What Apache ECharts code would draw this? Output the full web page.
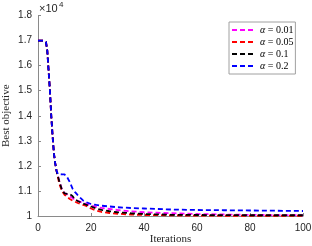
<!DOCTYPE html>
<html>
<head>
<meta charset="utf-8">
<script src="https://cdn.jsdelivr.net/npm/echarts@6/dist/echarts.min.js"></script>
<style>html,body{margin:0;padding:0;background:#fff;}#c{width:312px;height:246px;}</style>
</head>
<body>
<div id="c"></div>
<script>
const iterations = [0,1,2,3,3.5,4,4.5,5,5.5,6,6.5,7,7.5,8,9,10,10.5,11,12,13,14,15,16,17,18,20,22,24,27,30,35,40,45,50,60,70,80,90,100];
const alpha001 = [17000,17000,17000,16950,16600,15800,15000,14000,13200,12500,12100,11800,11600,11420,11080,10920,10880,10860,10780,10720,10650,10600,10560,10520,10490,10420,10360,10320,10280,10240,10190,10150,10130,10110,10080,10060,10045,10035,10030];
const alpha005 = [17000,17000,17000,16950,16600,15800,15000,14000,13200,12500,12100,11800,11550,11300,11000,10850,10800,10760,10680,10620,10570,10520,10480,10440,10410,10300,10220,10160,10120,10090,10060,10040,10035,10025,10015,10010,10010,10010,10010];
const alpha01 = [17000,17000,17000,16950,16600,15800,15000,14000,13200,12500,12100,11800,11600,11400,11050,10900,10880,10880,10870,10800,10660,10600,10550,10500,10460,10380,10300,10240,10190,10150,10110,10080,10065,10050,10040,10035,10030,10030,10030];
const alpha02 = [17000,17000,17000,16950,16600,15800,15000,14000,13200,12500,12100,11800,11680,11670,11660,11660,11650,11550,11350,11100,10950,10830,10720,10620,10560,10480,10440,10410,10380,10350,10320,10300,10280,10260,10240,10230,10220,10210,10200];
const seriesNames = ['0.01','0.05','0.1','0.2'];
const seriesColors = ['#ff00ff','#ff0000','#000000','#0000ff'];
const seriesValues = [alpha001, alpha005, alpha01, alpha02];

const chart = echarts.init(document.getElementById('c'), null, {renderer:'canvas'});
const series = seriesValues.map((vals, i) => ({
  name: seriesNames[i],
  type: 'line',
  data: iterations.map((x, j) => [x, vals[j]]),
  showSymbol: false,
  symbol: 'none',
  lineStyle: {color: seriesColors[i], width: 1.8, type: [5,3]},
  itemStyle: {color: seriesColors[i]},
  z: 2 + i
}));
chart.setOption({
  animation: false,
  backgroundColor: '#ffffff',
  grid: {left: 38, right: 9, top: 15.5, bottom: 30, containLabel: false, outerBoundsMode: 'none'},
  xAxis: {
    type: 'value', min: 0, max: 100, interval: 20,
    name: 'Iterations', nameLocation: 'middle', nameGap: 18, nameMoveOverlap: false,
    nameTextStyle: {fontFamily: 'Liberation Serif', fontSize: 11, color: '#262626'},
    axisLine: {lineStyle: {color: '#8a8a8a', width: 1}},
    axisTick: {inside: true, length: 3, lineStyle: {color: '#8a8a8a'}},
    axisLabel: {fontFamily: 'Liberation Sans', fontSize: 10, color: '#262626', margin: 7},
    splitLine: {show: false}
  },
  yAxis: {
    type: 'value', min: 10000, max: 18000, interval: 1000,
    name: 'Best objective', nameLocation: 'middle', nameGap: 26, nameRotate: 90, nameMoveOverlap: false,
    nameTextStyle: {fontFamily: 'Liberation Serif', fontSize: 11, color: '#262626'},
    axisLine: {show: true, lineStyle: {color: '#8a8a8a', width: 1}},
    axisTick: {show: true, inside: true, length: 3, lineStyle: {color: '#8a8a8a'}},
    axisLabel: {fontFamily: 'Liberation Sans', fontSize: 10, color: '#262626', margin: 6,
      formatter: v => String(Math.round(v/100)/100)},
    splitLine: {show: false}
  },
  legend: {
    orient: 'vertical', left: 229, top: 22,
    padding: [3, 2, 3, 2], itemGap: 2, itemWidth: 23, itemHeight: 10,
    backgroundColor: '#ffffff', borderColor: '#a0a0a0', borderWidth: 1, borderRadius: 0,
    data: seriesNames,
    itemStyle: {opacity: 0},
    formatter: n => '{a|α} = ' + n,
    textStyle: {fontFamily: 'Liberation Serif', fontSize: 10, color: '#000', lineHeight: 10,
      rich: {a: {fontFamily: 'Liberation Serif', fontStyle: 'italic', fontSize: 10, lineHeight: 10}}}
  },
  graphic: [
    {type: 'text', left: 39, top: 3, style: {text: '×10', font: '11px "Liberation Sans"', fill: '#262626'}},
    {type: 'text', left: 59, top: 1, style: {text: '4', font: '8px "Liberation Sans"', fill: '#262626'}}
  ],
  series: series
});
</script>
</body>
</html>
